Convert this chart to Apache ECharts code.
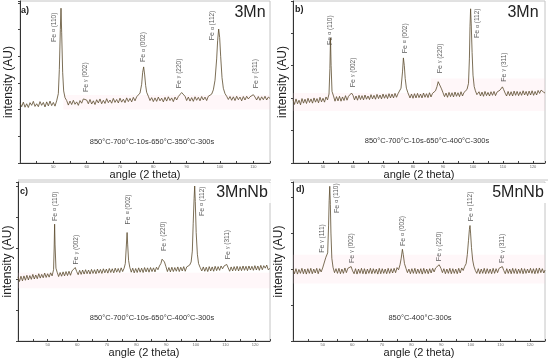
<!DOCTYPE html>
<html><head><meta charset="utf-8">
<script src="https://cdn.jsdelivr.net/npm/echarts@6/dist/echarts.min.js"></script>
<style>html,body{margin:0;padding:0;background:#fff}#c{width:550px;height:362px}</style>
</head><body><div id="c"></div><script>
// ---- data: [2theta (deg), intensity (AU)] ----
const scanA = [[40,2.25],[40.5,2.11],[41,2.28],[41.5,2.09],[42,2.22],[42.5,2.08],[43,2.26],[43.5,2.16],[44,2.31],[44.5,2.12],[45,2.22],[45.5,2.11],[46,2.3],[46.5,2.16],[47,2.27],[47.5,2.1],[48,2.29],[48.5,2.14],[49,2.32],[49.5,2.15],[50,2.27],[50.5,2.13],[51,2.33],[51.5,2.6],[51.8,3.5],[52.1,5.0],[52.3,5.8],[52.5,4.9],[52.8,3.4],[53.1,2.7],[53.5,2.45],[54,2.34],[54.5,2.17],[55,2.32],[55.5,2.19],[56,2.35],[56.5,2.2],[57,2.29],[57.5,2.16],[58,2.34],[58.5,2.24],[59,2.4],[59.5,2.47],[60,2.36],[60.5,2.22],[61,2.38],[61.5,2.21],[62,2.33],[62.5,2.19],[63,2.37],[63.5,2.25],[64,2.4],[64.5,2.22],[65,2.35],[65.5,2.23],[66,2.41],[66.5,2.26],[67,2.36],[67.5,2.24],[68,2.42],[68.5,2.27],[69,2.38],[69.5,2.25],[70,2.43],[70.5,2.28],[71,2.39],[71.5,2.26],[72,2.44],[72.5,2.3],[73,2.42],[73.5,2.29],[74,2.46],[74.5,2.33],[75,2.48],[75.5,2.45],[76,2.62],[76.5,2.95],[76.8,3.4],[77.1,3.6],[77.4,3.3],[77.7,2.9],[78,2.65],[78.5,2.5],[79,2.34],[79.5,2.45],[80,2.3],[80.5,2.44],[81,2.31],[81.5,2.47],[82,2.33],[82.5,2.43],[83,2.29],[83.5,2.46],[84,2.32],[84.5,2.48],[85,2.34],[85.5,2.44],[86,2.3],[86.5,2.47],[87,2.36],[87.5,2.49],[88,2.52],[88.5,2.64],[88.8,2.7],[89.1,2.6],[89.5,2.5],[90,2.34],[90.5,2.47],[91,2.32],[91.5,2.45],[92,2.31],[92.5,2.48],[93,2.35],[93.5,2.46],[94,2.33],[94.5,2.49],[95,2.36],[95.5,2.47],[96,2.34],[96.5,2.5],[97,2.45],[97.5,2.58],[98,2.74],[98.5,3.1],[99,3.9],[99.3,4.6],[99.6,5.02],[99.9,4.7],[100.2,4.0],[100.6,3.2],[101,2.8],[101.5,2.6],[102,2.5],[102.5,2.38],[103,2.49],[103.5,2.35],[104,2.48],[104.5,2.34],[105,2.5],[105.5,2.37],[106,2.47],[106.5,2.33],[107,2.49],[107.5,2.36],[108,2.5],[108.5,2.4],[109,2.48],[109.5,2.52],[110,2.56],[110.5,2.47],[111,2.36],[111.5,2.49],[112,2.35],[112.5,2.48],[113,2.37],[113.5,2.5],[114,2.36],[114.5,2.47],[115,2.42]];
const scanB = [[40,1.95],[40.5,1.8],[41,1.97],[41.5,1.82],[42,1.93],[42.5,1.79],[43,1.98],[43.5,1.84],[44,1.96],[44.5,1.83],[45,1.99],[45.5,1.86],[46,1.97],[46.5,1.84],[47,2.0],[47.5,1.87],[48,1.98],[48.5,1.85],[49,2.02],[49.5,1.88],[50,1.99],[50.5,1.87],[51,2.03],[51.5,1.94],[52,2.12],[52.3,2.9],[52.5,3.85],[52.7,3.0],[53,2.2],[53.5,2.06],[54,1.9],[54.5,2.04],[55,1.91],[55.5,2.05],[56,1.9],[56.5,2.03],[57,1.92],[57.5,2.07],[58,1.93],[58.5,2.05],[59,2.1],[59.5,2.15],[60,2.08],[60.5,1.94],[61,2.06],[61.5,1.93],[62,2.08],[62.5,1.95],[63,2.07],[63.5,1.94],[64,2.09],[64.5,1.96],[65,2.06],[65.5,1.95],[66,2.1],[66.5,1.97],[67,2.08],[67.5,1.96],[68,2.11],[68.5,1.98],[69,2.09],[69.5,1.97],[70,2.12],[70.5,1.99],[71,2.1],[71.5,1.98],[72,2.13],[72.5,2.0],[73,2.12],[73.5,2.0],[74,2.14],[74.5,2.02],[75,2.13],[75.5,2.12],[76,2.3],[76.5,2.8],[76.8,3.23],[77.1,3.0],[77.4,2.6],[77.8,2.3],[78.3,2.16],[79,2.0],[79.5,2.12],[80,1.99],[80.5,2.13],[81,2.0],[81.5,2.14],[82,2.01],[82.5,2.12],[83,2.0],[83.5,2.15],[84,2.02],[84.5,2.13],[85,2.01],[85.5,2.16],[86,2.03],[86.5,2.14],[87,2.08],[87.5,2.22],[88,2.35],[88.4,2.5],[88.7,2.55],[89,2.45],[89.5,2.28],[90,2.16],[90.5,2.04],[91,2.15],[91.5,2.02],[92,2.17],[92.5,2.04],[93,2.16],[93.5,2.03],[94,2.18],[94.5,2.05],[95,2.16],[95.5,2.04],[96,2.19],[96.5,2.06],[97,2.17],[97.5,2.12],[98,2.26],[98.5,2.45],[98.8,3.2],[99,4.2],[99.2,4.74],[99.4,4.3],[99.7,3.4],[100,2.7],[100.4,2.35],[100.8,2.22],[101.3,2.1],[102,2.19],[102.5,2.06],[103,2.18],[103.5,2.05],[104,2.2],[104.5,2.07],[105,2.17],[105.5,2.06],[106,2.19],[106.5,2.08],[107,2.2],[107.5,2.07],[108,2.18],[108.5,2.14],[109,2.24],[109.5,2.3],[109.8,2.34],[110.2,2.26],[110.7,2.15],[111.2,2.06],[111.7,2.2],[112.2,2.07],[112.7,2.19],[113.2,2.06],[113.7,2.21],[114.2,2.08],[114.7,2.2],[115.2,2.07],[115.7,2.19],[116.2,2.08],[116.7,2.22],[117.2,2.09],[117.7,2.2],[118.2,2.07],[118.7,2.21],[119.2,2.09],[119.7,2.22],[120.2,2.08],[120.7,2.2],[121.2,2.09],[121.7,2.23],[122.2,2.14],[122.7,2.24],[123,2.27],[123.5,2.18],[124,2.15]];
const scanC = [[40,2.07],[40.5,1.92],[41,2.09],[41.5,1.94],[42,2.1],[42.5,1.96],[43,2.12],[43.5,1.97],[44,2.11],[44.5,1.99],[45,2.15],[45.5,2.0],[46,2.13],[46.5,2.01],[47,2.17],[47.5,2.03],[48,2.15],[48.5,2.04],[49,2.19],[49.5,2.05],[50,2.17],[50.5,2.06],[51,2.2],[51.5,2.1],[52,2.3],[52.2,3.0],[52.35,3.77],[52.5,3.1],[52.8,2.35],[53.2,2.22],[53.7,2.08],[54.2,2.21],[54.7,2.09],[55.2,2.23],[55.7,2.1],[56.2,2.24],[56.7,2.11],[57.2,2.25],[57.7,2.12],[58.2,2.26],[58.7,2.28],[59.3,2.37],[59.8,2.24],[60.3,2.14],[60.8,2.28],[61.3,2.15],[61.8,2.29],[62.3,2.16],[62.8,2.3],[63.3,2.17],[63.8,2.29],[64.3,2.16],[64.8,2.31],[65.3,2.18],[65.8,2.3],[66.3,2.17],[66.8,2.32],[67.3,2.19],[67.8,2.31],[68.3,2.18],[68.8,2.33],[69.3,2.2],[69.8,2.32],[70.3,2.19],[70.8,2.34],[71.3,2.21],[71.8,2.33],[72.3,2.2],[72.8,2.35],[73.3,2.22],[73.8,2.34],[74.3,2.21],[74.8,2.36],[75.3,2.24],[75.8,2.35],[76.2,2.5],[76.5,3.0],[76.8,3.5],[77,3.1],[77.3,2.6],[77.7,2.38],[78.2,2.22],[78.7,2.35],[79.2,2.2],[79.7,2.34],[80.2,2.21],[80.7,2.36],[81.2,2.22],[81.7,2.35],[82.2,2.21],[82.7,2.37],[83.2,2.23],[83.7,2.36],[84.2,2.22],[84.7,2.37],[85.2,2.24],[85.7,2.36],[86.2,2.23],[86.7,2.38],[87.2,2.3],[87.7,2.42],[88.2,2.5],[88.6,2.64],[89,2.7],[89.4,2.55],[89.9,2.4],[90.4,2.24],[90.9,2.37],[91.4,2.23],[91.9,2.38],[92.4,2.24],[92.9,2.37],[93.4,2.25],[93.9,2.39],[94.4,2.24],[94.9,2.38],[95.4,2.26],[95.9,2.4],[96.4,2.25],[96.9,2.39],[97.4,2.33],[97.9,2.45],[98.4,2.55],[98.8,2.9],[99.1,3.8],[99.4,4.6],[99.6,5.0],[99.8,4.5],[100.1,3.5],[100.5,2.8],[100.9,2.5],[101.4,2.38],[102,2.26],[102.5,2.39],[103,2.25],[103.5,2.38],[104,2.24],[104.5,2.4],[105,2.26],[105.5,2.39],[106,2.25],[106.5,2.41],[107,2.27],[107.5,2.4],[108,2.28],[108.5,2.42],[109,2.33],[109.5,2.42],[110,2.4],[110.4,2.47],[110.9,2.36],[111.4,2.25],[111.9,2.39],[112.4,2.26],[112.9,2.4],[113.4,2.27],[113.9,2.41],[114.4,2.26],[114.9,2.4],[115.4,2.27],[115.9,2.42],[116.4,2.28],[116.9,2.41],[117.4,2.27],[117.9,2.42],[118.4,2.29],[118.9,2.41],[119.4,2.28],[119.9,2.43],[120.4,2.29],[120.9,2.42],[121.4,2.28],[121.9,2.44],[122.4,2.3],[122.9,2.43],[123.4,2.35],[123.9,2.45],[124.4,2.3],[125,2.34]];
const scanD = [[40,2.0],[40.5,1.87],[41,2.01],[41.5,1.86],[42,1.99],[42.5,1.88],[43,2.02],[43.5,1.87],[44,2.0],[44.5,1.86],[45,2.01],[45.5,1.88],[46,2.02],[46.5,1.87],[47,2.0],[47.5,1.89],[48,2.02],[48.5,1.87],[49,2.01],[49.5,1.92],[50,2.03],[50.5,2.05],[50.8,2.25],[51.1,2.33],[51.4,2.3],[51.7,2.45],[52,3.2],[52.2,3.9],[52.4,4.3],[52.6,3.8],[52.8,3.0],[53.1,2.3],[53.5,2.05],[54,1.9],[54.5,2.01],[55,1.88],[55.5,2.02],[56,1.87],[56.5,2.0],[57,1.88],[57.5,2.03],[58,1.9],[58.5,2.02],[59,1.98],[59.6,2.07],[60.1,1.95],[60.6,1.87],[61.1,2.01],[61.6,1.86],[62.1,2.0],[62.6,1.88],[63.1,2.02],[63.6,1.87],[64.1,2.01],[64.6,1.86],[65.1,2.0],[65.6,1.88],[66.1,2.02],[66.6,1.87],[67.1,2.01],[67.6,1.88],[68.1,2.0],[68.6,1.86],[69.1,2.02],[69.6,1.87],[70.1,2.01],[70.6,1.88],[71.1,2.0],[71.6,1.87],[72.1,2.02],[72.6,1.88],[73.1,2.01],[73.6,1.89],[74.1,2.02],[74.6,1.9],[75.1,2.04],[75.6,1.98],[76.1,2.12],[76.5,2.3],[76.9,2.55],[77.2,2.4],[77.6,2.15],[78.1,2.02],[78.6,1.9],[79.1,2.0],[79.6,1.87],[80.1,2.01],[80.6,1.88],[81.1,2.02],[81.6,1.87],[82.1,2.0],[82.6,1.88],[83.1,2.01],[83.6,1.86],[84.1,2.02],[84.6,1.88],[85.1,2.0],[85.6,1.87],[86.1,2.01],[86.6,1.89],[87.1,2.02],[87.6,1.92],[88.1,2.03],[88.6,2.04],[89.3,2.12],[89.9,2.02],[90.4,1.9],[90.9,2.01],[91.4,1.87],[91.9,2.0],[92.4,1.88],[92.9,2.02],[93.4,1.87],[93.9,2.01],[94.4,1.88],[94.9,2.0],[95.4,1.87],[95.9,2.02],[96.4,1.89],[96.9,2.03],[97.4,1.96],[97.9,2.07],[98.4,2.15],[98.8,2.4],[99.2,2.8],[99.5,3.1],[99.7,3.21],[99.9,3.0],[100.2,2.6],[100.6,2.25],[101,2.08],[101.5,1.96],[102,1.88],[102.5,2.01],[103,1.87],[103.5,2.0],[104,1.88],[104.5,2.02],[105,1.87],[105.5,2.01],[106,1.88],[106.5,2.0],[107,1.87],[107.5,2.02],[108,1.88],[108.5,2.01],[109,1.9],[109.5,2.02],[110,1.98],[110.6,2.07],[111.1,1.96],[111.6,1.87],[112.1,2.01],[112.6,1.88],[113.1,2.0],[113.6,1.87],[114.1,2.02],[114.6,1.88],[115.1,2.01],[115.6,1.87],[116.1,2.0],[116.6,1.88],[117.1,2.02],[117.6,1.87],[118.1,2.01],[118.6,1.88],[119.1,2.0],[119.6,1.89],[120.1,2.02],[120.6,1.88],[121.1,2.01],[121.6,1.87],[122.1,2.02],[122.6,1.88],[123.1,2.03],[123.6,1.9],[124.1,2.01],[124.6,1.89],[125,1.97]];

// peak annotations: [2theta, intensity at label start, phase, (hkl)]
const peaksA = [[50.2,4.53,'α','(110)'],[59.7,2.66,'γ','(002)'],[77.0,3.78,'α','(002)'],[87.7,2.8,'γ','(220)'],[97.7,4.6,'α','(112)'],[110.7,2.8,'γ','(311)']];
const peaksB = [[52.3,3.63,'α','(110)'],[60.0,2.33,'γ','(002)'],[77.3,3.37,'α','(002)'],[89.0,2.76,'γ','(220)'],[101.5,3.84,'α','(112)'],[110.3,2.5,'γ','(311)']];
const peaksC = [[52.4,3.87,'α','(110)'],[59.7,2.47,'γ','(002)'],[77.1,3.76,'α','(002)'],[89.1,2.9,'γ','(220)'],[102.0,4.03,'α','(112)'],[110.7,2.64,'γ','(311)']];
const peaksD = [[49.8,2.45,'γ','(111)'],[54.7,3.56,'α','(110)'],[59.8,2.17,'γ','(002)'],[77.0,2.64,'α','(002)'],[89.4,2.22,'γ','(220)'],[99.9,3.33,'α','(112)'],[110.6,2.17,'γ','(311)']];

const panelLetters = ['a)','b)','c)','d)'];
const sampleNames = ['3Mn','3Mn','3MnNb','5MnNb'];
const conditions = ['850°C-700°C-10s-650°C-350°C-300s','850°C-700°C-10s-650°C-400°C-300s','850°C-700°C-10s-650°C-400°C-300s','850°C-400°C-300s'];
const xName = 'angle (2 theta)';
const yName = 'intensity (AU)';
const xRanges = [[40,115],[40,124],[40,125],[40,125]];

// ---- layout / style ----
const FONT = '"Liberation Sans", Arial, sans-serif';
const LINE = '#5a4a2c';
const grids = [
  {left:20, top:1, width:250, height:162},
  {left:293, top:1, width:252, height:162},
  {left:18, top:182, width:252, height:159},
  {left:293, top:182, width:252, height:159}
];
const yMax = [6.07, 4.98, 5.13, 4.42];
const yNameGap = [5, 4, 4, 8];
const xNameGap = [5, 5, 6, 4];
const bands = [
  [[[53,2.0],[115,2.55]]],
  [[[40,1.6],[124,2.15]],[[86,2.15],[124,2.6]]],
  [[[40,1.7],[125,2.2]]],
  [[[40,1.6],[125,2.4]]]
];
const scans = [scanA, scanB, scanC, scanD];
const peaks = [peaksA, peaksB, peaksC, peaksD];

const chart = echarts.init(document.getElementById('c'), null, {renderer:'canvas'});

const option = {
  animation:false,
  backgroundColor:'#fff',
  grid: grids.map(g => Object.assign({show:true, borderColor:'#c4c4c4', borderWidth:1, backgroundColor:'transparent'}, g)),
  xAxis: grids.map((g,i) => ({
    type:'value', gridIndex:i, min:xRanges[i][0], max:xRanges[i][1], interval:10,
    name:xName, nameLocation:'middle', nameGap:xNameGap[i],
    nameTextStyle:{fontFamily:FONT, fontSize:11, color:'#222', verticalAlign:'top'},
    axisLine:{show:true, onZero:false, lineStyle:{color:'#333', width:1}},
    axisTick:{show:true, inside:true, length:2, lineStyle:{color:'#444'}},
    minorTick:{show:true, splitNumber:2, length:2, lineStyle:{color:'#444'}},
    axisLabel:{show:true, fontSize:4, color:'#666', margin:2, fontFamily:FONT, showMinLabel:false, showMaxLabel:false},
    splitLine:{show:false}
  })),
  yAxis: grids.map((g,i) => ({
    type:'value', gridIndex:i, min:0, max:yMax[i], interval:1,
    name:yName, nameLocation:'middle', nameGap:yNameGap[i], nameRotate:90,
    nameTextStyle:{fontFamily:FONT, fontSize:12, color:'#222'},
    axisLine:{show:true, onZero:false, lineStyle:{color:'#333', width:1}},
    axisTick:{show:true, inside:false, length:2, lineStyle:{color:'#444'}},
    axisLabel:{show:false},
    splitLine:{show:false}
  })),
  series: []
};

scans.forEach((scan,i) => {
  option.series.push({
    type:'line', xAxisIndex:i, yAxisIndex:i, data:scan, showSymbol:false, silent:true,
    lineStyle:{color:LINE, width:0.8},
    markArea:{silent:true, itemStyle:{color:'rgba(255,205,220,0.16)'},
      data: bands[i].map(b => [{coord:b[0]},{coord:b[1]}])}
  });
  option.series.push({
    type:'scatter', xAxisIndex:i, yAxisIndex:i, silent:true, symbolSize:1,
    itemStyle:{color:'rgba(0,0,0,0)'},
    data: peaks[i].map(p => ({value:[p[0],p[1]], phase:p[2], hkl:p[3]})),
    label:{show:true, position:'inside', rotate:90, align:'left', verticalAlign:'middle',
      formatter: p => '{fe|Fe }{ph|' + p.data.phase + '}{hk| ' + p.data.hkl + '}',
      rich:{
        fe:{fontFamily:FONT, fontSize:7, color:'#333'},
        ph:{fontFamily:FONT, fontSize:5, color:'#333'},
        hk:{fontFamily:FONT, fontSize:6.5, color:'#333'}
      }}
  });
});

const letterPos = [[21,11],[295,10],[20,192],[296,190]];
const namePos = [[250,13],[523,13],[242,193],[518,193]];
const condPos = [[152,142],[427,141],[152,318],[420,318]];
const gfx = [];
// panel frame bottoms
gfx.push({type:'line', shape:{x1:18,y1:180,x2:271,y2:180}, style:{stroke:'#c4c4c4', lineWidth:1}});
gfx.push({type:'line', shape:{x1:290,y1:180,x2:548,y2:180}, style:{stroke:'#c4c4c4', lineWidth:1}});
for (let i=0;i<4;i++){
  gfx.push({type:'text', x:letterPos[i][0], y:letterPos[i][1], z:10,
    style:{text:panelLetters[i], fontFamily:FONT, fontSize:9, fontWeight:'bold', fill:'#222', verticalAlign:'middle'}});
  gfx.push({type:'text', x:namePos[i][0], y:namePos[i][1], z:10,
    style:{text:sampleNames[i], fontFamily:FONT, fontSize:16, fill:'#222', align:'center', verticalAlign:'middle',
      backgroundColor:'#fff', padding:[2,3]}});
  gfx.push({type:'text', x:condPos[i][0], y:condPos[i][1], z:10,
    style:{text:conditions[i], fontFamily:FONT, fontSize:7.5, fill:'#333', align:'center', verticalAlign:'middle'}});
}
option.graphic = gfx;

chart.setOption(option);
</script></body></html>
